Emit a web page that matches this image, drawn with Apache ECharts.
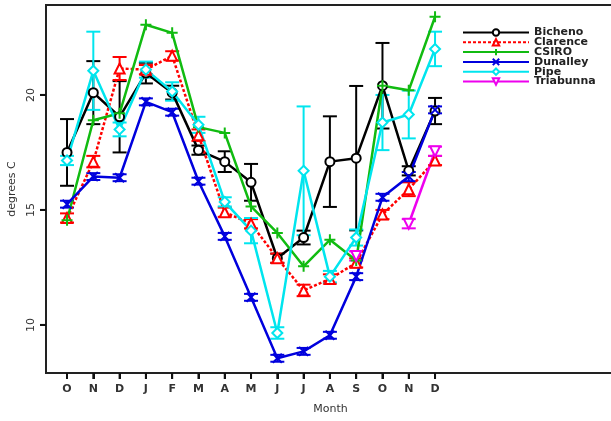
<!DOCTYPE html>
<html><head><meta charset="utf-8">
<script src="https://cdn.jsdelivr.net/npm/echarts@6/dist/echarts.min.js"></script>
<style>html,body{margin:0;padding:0;background:#fff}#c{width:611px;height:421px}</style>
</head><body><div id="c"></div>
<script>
const months = ['O','N','D','J','F','M','A','M','J','J','A','S','O','N','D'];
const yTicks = [10, 15, 20];
const yMin = 7.91, yMax = 23.91, xMin = -0.8, xMax = 20.846;

const bicheno     = [17.5, 20.1, 19.05, 20.95, 20.1, 17.6, 17.1, 16.2, 12.9, 13.8, 17.1, 17.25, 20.4, 16.7, 19.3];
const bichenoErr  = [1.45, 1.37, 1.55, 0.45, 0.3, 0.2, 0.45, 0.8, 0.2, 0.3, 1.97, 3.14, 1.86, 0.2, 0.57];
const clarence    = [14.65, 17.1, 21.15, 21.1, 21.7, 18.25, 14.9, 14.4, 12.9, 11.5, 12.0, 12.7, 14.8, 15.9, 17.15];
const clarenceErr = [0.2, 0.25, 0.5, 0.2, 0.2, 0.25, 0.2, 0.2, 0.2, 0.25, 0.2, 0.2, 0.2, 0.3, 0.2];
const csiro       = [14.55, 18.9, 19.2, 23.05, 22.7, 18.6, 18.35, 15.15, 14.0, 12.55, 13.7, 12.8, 20.4, 20.2, 23.4];
const dunalley    = [15.25, 16.45, 16.4, 19.7, 19.25, 16.25, 13.85, 11.2, 8.55, 8.85, 9.55, 12.1, 15.55, 16.45, 19.35];
const dunalleyErr = [0.15, 0.15, 0.15, 0.15, 0.15, 0.15, 0.15, 0.15, 0.15, 0.15, 0.15, 0.15, 0.15, 0.2, 0.15];
const pipe        = [17.15, 21.05, 18.5, 21.1, 20.15, 18.7, 15.35, 14.1, 9.65, 16.7, 12.1, 13.8, 18.8, 19.15, 22.0];
const pipeErr     = [0.2, 1.7, 0.3, 0.35, 0.4, 0.35, 0.2, 0.55, 0.25, 2.8, 0.25, 0.35, 1.2, 1.04, 0.75];
const triabunna   = [null, null, null, null, null, null, null, null, null, null, null, 13.0, null, 14.4, 17.55];
const triabunnaErr= [null, null, null, null, null, null, null, null, null, null, null, 0.2, null, 0.2, 0.2];

const chart = echarts.init(document.getElementById('c'), null, {renderer: 'canvas'});

function pts(vals) { return vals.map((v, i) => [i, v == null ? '-' : v]); }

function errSeries(name, vals, errs, color) {
  const data = [];
  vals.forEach((v, i) => { if (v != null && errs[i] != null) data.push([i, v - errs[i], v + errs[i]]); });
  return {
    type: 'custom', name: name + ' err', data: data, silent: true, z: 2,
    encode: {x: 0, y: [1, 2]},
    renderItem: function (params, api) {
      const x = api.value(0);
      const lo = api.coord([x, api.value(1)]);
      const hi = api.coord([x, api.value(2)]);
      const w = 7;
      const style = {stroke: color, lineWidth: 2, fill: null};
      return {type: 'group', children: [
        {type: 'line', shape: {x1: lo[0], y1: lo[1], x2: hi[0], y2: hi[1]}, style: style},
        {type: 'line', shape: {x1: lo[0] - w, y1: lo[1], x2: lo[0] + w, y2: lo[1]}, style: style},
        {type: 'line', shape: {x1: hi[0] - w, y1: hi[1], x2: hi[0] + w, y2: hi[1]}, style: style}
      ]};
    }
  };
}

function lineSeries(name, vals, color, symbol, opts) {
  opts = opts || {};
  return {
    type: 'line', name: name, data: pts(vals), z: 3,
    symbol: symbol, symbolSize: opts.size || 9, symbolRotate: opts.rotate || 0,
    showAllSymbol: true, connectNulls: false,
    lineStyle: {color: color, width: 2.5, type: opts.dash || 'solid'},
    itemStyle: {color: opts.fill || color, borderColor: color, borderWidth: 2},
    emphasis: {disabled: true}
  };
}

const plusPath = 'path://M5,0L5,10M0,5L10,5';
const xPath = 'path://M0,0L10,10M10,0L0,10';

const option = {
  animation: false,
  grid: {left: 46, right: -4, top: 5, bottom: 48, show: true, borderColor: '#222', borderWidth: 2,
    containLabel: false, outerBoundsMode: 'none'},
  xAxis: {
    type: 'value', min: xMin, max: xMax,
    name: 'Month', nameLocation: 'middle', nameGap: 31,
    nameTextStyle: {fontFamily: 'DejaVu Sans', fontSize: 11, color: '#333'},
    axisLine: {show: true, onZero: false, lineStyle: {color: '#222', width: 2}},
    axisTick: {show: true, customValues: months.map((m, i) => i), length: 6, lineStyle: {color: '#111', width: 2}},
    axisLabel: {customValues: months.map((m, i) => i), formatter: v => months[Math.round(v)], margin: 11,
      fontFamily: 'DejaVu Sans', fontSize: 11, fontWeight: 'bold', color: '#333'},
    splitLine: {show: false}
  },
  yAxis: {
    type: 'value', min: yMin, max: yMax,
    name: 'degrees C', nameLocation: 'middle', nameGap: 28,
    nameTextStyle: {fontFamily: 'DejaVu Sans', fontSize: 11, color: '#333'},
    axisLine: {show: true, onZero: false, lineStyle: {color: '#222', width: 2}},
    axisTick: {show: true, customValues: yTicks, length: 6, lineStyle: {color: '#111', width: 2}},
    axisLabel: {customValues: yTicks, rotate: 90, margin: 9, fontFamily: 'DejaVu Sans', fontSize: 11, color: '#333'},
    splitLine: {show: false}
  },
  legend: {
    orient: 'vertical', left: 457, top: 22, itemWidth: 66, itemHeight: 8, itemGap: -1.2,
    data: ['Bicheno', 'Clarence', 'CSIRO', 'Dunalley', 'Pipe', 'Triabunna'],
    textStyle: {fontFamily: 'DejaVu Sans', fontSize: 11, fontWeight: 'bold', color: '#222', lineHeight: 9, padding: [0, 0, 0, 0]},
    selectedMode: false
  },
  series: [
    errSeries('Bicheno', bicheno, bichenoErr, '#000'),
    errSeries('Clarence', clarence, clarenceErr, '#ff0000'),
    errSeries('Dunalley', dunalley, dunalleyErr, '#0000dd'),
    errSeries('Pipe', pipe, pipeErr, '#00e5ee'),
    errSeries('Triabunna', triabunna, triabunnaErr, '#ee00ee'),
    lineSeries('Bicheno', bicheno, '#000000', 'emptyCircle', {size: 9}),
    lineSeries('Clarence', clarence, '#ff0000', 'emptyTriangle', {size: 10, dash: [3, 2]}),
    lineSeries('CSIRO', csiro, '#11bb11', plusPath, {size: 11}),
    lineSeries('Dunalley', dunalley, '#0000dd', xPath, {size: 9}),
    lineSeries('Pipe', pipe, '#00e5ee', 'emptyDiamond', {size: 10}),
    lineSeries('Triabunna', triabunna, '#ee00ee', 'emptyTriangle', {size: 10, rotate: 180})
  ]
};
chart.setOption(option);

// tick marks positioned through the chart's own axis scales
const tickEls = [];
months.forEach((m, i) => {
  const p = chart.convertToPixel({gridIndex: 0}, [i, yMin]);
  tickEls.push({type: 'line', z: 100, silent: true, shape: {x1: p[0], y1: p[1], x2: p[0], y2: p[1] + 6}, style: {stroke: '#111', lineWidth: 2}});
});
yTicks.forEach(t => {
  const p = chart.convertToPixel({gridIndex: 0}, [xMin, t]);
  tickEls.push({type: 'line', z: 100, silent: true, shape: {x1: p[0] - 6, y1: p[1], x2: p[0], y2: p[1]}, style: {stroke: '#111', lineWidth: 2}});
});
chart.setOption({graphic: tickEls});
</script>
</body></html>
